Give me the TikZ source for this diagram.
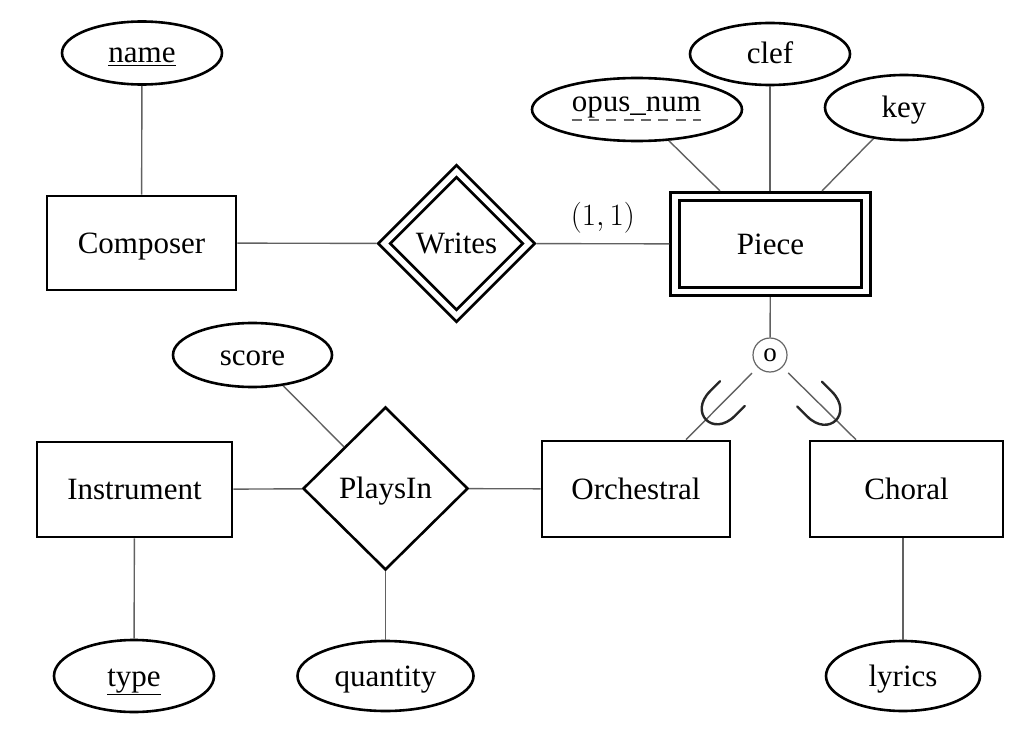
\RequirePackage{fix-cm}
\documentclass[tikz,border=0pt]{standalone}
\usepackage{fontspec}
\setmainfont{Liberation Serif}
\usetikzlibrary{shapes.geometric}
\begin{document}
\begin{tikzpicture}[x=1pt,y=-1pt,
  every node/.style={font=\fontsize{31}{36}\selectfont, text height=20, text depth=0},
  ent/.style={draw, line width=2.6, rectangle, inner sep=0},
  attr/.style={draw, line width=2.6, ellipse, inner sep=0},
  rel/.style={draw, line width=2.6, diamond, inner sep=0},
  dbl/.style={double, double distance=5.5, line width=2.8, outer sep=5.6},
  conn/.style={draw=black!62, line width=1.4},
  subsetmark/.style={draw=black!85, line width=2.4, line cap=round}]
\useasboundingbox (0,0) rectangle (1033,741);
\fill[white] (0,0) rectangle (1033,741);

% top row
\node[attr, minimum width=160, minimum height=63] (name) at (142,53) {\underline{name}};
\node[ent, minimum width=189, minimum height=94] (composer) at (141.5,243) {Composer};
\node[rel, dbl, minimum width=149, minimum height=149] (writes) at (456.5,243.5) {Writes};
\node[ent, dbl, minimum width=191, minimum height=95] (piece) at (770.5,244) {Piece};

\node[attr, minimum width=210, minimum height=63] (opus) at (637,109.5) {};
\node[inner sep=0] (opust) at (636.5,102) {opus\_num};
\draw[black!60, line width=1.3, dash pattern=on 10 off 7.3] ([yshift=-8]opust.base west) -- ([yshift=-8]opust.base east);
\node[attr, minimum width=160, minimum height=62] (clef) at (770,54) {clef};
\node[attr, minimum width=158, minimum height=65] (key) at (904,107.5) {key};

\draw[conn] (name) -- (composer);
\draw[conn] (composer) -- (writes);
\draw[conn] (writes) -- node[midway, yshift=28.5, inner sep=0] {$(1,1)$} (piece);
\draw[conn] (opus) -- (piece.north -| 720,0);
\draw[conn] (clef) -- (clef |- piece.north);
\draw[conn] (key) -- (piece.north -| 822,0);

% specialization
\node[circle, draw=black!60, line width=1.2, minimum size=34, inner sep=0,
      font=\fontsize{27}{30}\selectfont, text height=12, text depth=0] (isa) at (770,355) {o};
\draw[conn] (piece) -- (isa);

% bottom row
\node[ent, minimum width=195, minimum height=95] (instr) at (134.5,489.5) {Instrument};
\node[rel, minimum width=165, minimum height=163] (plays) at (385.5,488.5) {PlaysIn};
\node[ent, minimum width=188, minimum height=96] (orch) at (636,489) {Orchestral};
\node[ent, minimum width=193, minimum height=96] (choral) at (906.5,489) {Choral};

\node[attr, minimum width=159, minimum height=64] (score) at (252.5,355) {score};
\node[attr, minimum width=160, minimum height=72] (type) at (134,676) {\underline{type}};
\node[attr, minimum width=176, minimum height=70] (quantity) at (385.5,676) {quantity};
\node[attr, minimum width=154, minimum height=70] (lyrics) at (903,676) {lyrics};

\draw[conn] (instr) -- (plays);
\draw[conn] (plays) -- (orch);
\draw[conn] (score) -- (plays);
\draw[conn] (instr) -- (type);
\draw[conn] (plays) -- (quantity);
\draw[conn] (choral.south -| lyrics.north) -- (lyrics);

\draw[conn, shorten <=8pt] (isa) -- (orch.north -| 686,0);
\draw[conn, shorten <=8pt] (isa) -- (choral.north -| 856,0);

% subset marks
\begin{scope}[shift={(732.5,393.5)}, rotate=-45]
  \draw[subsetmark] (-17.5,0) -- (-17.5,14) .. controls (-17.5,45) and (17.5,45) .. (17.5,14) -- (17.5,0);
\end{scope}
\begin{scope}[shift={(809.5,394)}, rotate=45]
  \draw[subsetmark] (-17.5,0) -- (-17.5,14) .. controls (-17.5,45) and (17.5,45) .. (17.5,14) -- (17.5,0);
\end{scope}
\end{tikzpicture}
\end{document}
